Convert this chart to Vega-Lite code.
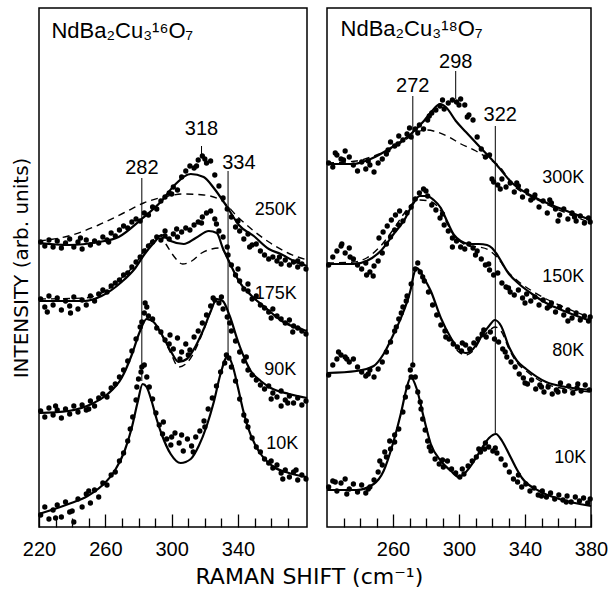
{
"$schema": "https://vega.github.io/schema/vega-lite/v6.json",
"padding": {"left": 10, "top": 7, "right": 5, "bottom": 5},
"background": "white",
"config": {"view": {"stroke": "black", "strokeWidth": 1.5}, "font": "Liberation Sans"},
"title": {"text": "RAMAN SHIFT (cm⁻¹)", "orient": "bottom", "anchor": "middle", "font": "DejaVu Sans", "fontSize": 22, "fontWeight": "normal", "color": "black", "offset": 3},
"spacing": 8,
"datasets": {
"fitL": [
{"T":"250K","x":220,"y":284},{"T":"250K","x":237.8,"y":282},{"T":"250K","x":255.9,"y":285},{"T":"250K","x":268,"y":290},{"T":"250K","x":281.9,"y":308},{"T":"250K","x":293.9,"y":326},{"T":"250K","x":301.8,"y":342},{"T":"250K","x":311.5,"y":353},{"T":"250K","x":319.3,"y":350},{"T":"250K","x":325.4,"y":339},{"T":"250K","x":333.8,"y":319},{"T":"250K","x":340.5,"y":302},{"T":"250K","x":349.5,"y":291},{"T":"250K","x":358.6,"y":278},{"T":"250K","x":365.8,"y":273},{"T":"250K","x":373.7,"y":266},{"T":"250K","x":381.6,"y":261},
{"T":"175K","x":220,"y":226},{"T":"175K","x":247.5,"y":226},{"T":"175K","x":257.7,"y":231},{"T":"175K","x":269.8,"y":245},{"T":"175K","x":277.6,"y":258},{"T":"175K","x":283.7,"y":273},{"T":"175K","x":289.7,"y":285},{"T":"175K","x":293.9,"y":292},{"T":"175K","x":299.4,"y":286},{"T":"175K","x":307.3,"y":283},{"T":"175K","x":314.5,"y":289},{"T":"175K","x":322.4,"y":296},{"T":"175K","x":327.2,"y":294},{"T":"175K","x":330.8,"y":279},{"T":"175K","x":335,"y":264},{"T":"175K","x":340.5,"y":246},{"T":"175K","x":348.3,"y":231},{"T":"175K","x":356.8,"y":219},{"T":"175K","x":366.4,"y":206},{"T":"175K","x":381.6,"y":196},
{"T":"90K","x":220,"y":114},{"T":"90K","x":237.8,"y":116},{"T":"90K","x":251.7,"y":123},{"T":"90K","x":261.4,"y":133},{"T":"90K","x":269.8,"y":149},{"T":"90K","x":275.9,"y":172},{"T":"90K","x":280.7,"y":195},{"T":"90K","x":284.9,"y":208},{"T":"90K","x":289.1,"y":205},{"T":"90K","x":293.9,"y":193},{"T":"90K","x":299.4,"y":176},{"T":"90K","x":304.2,"y":165},{"T":"90K","x":309.1,"y":168},{"T":"90K","x":314.5,"y":181},{"T":"90K","x":319.3,"y":198},{"T":"90K","x":323.6,"y":216},{"T":"90K","x":327.2,"y":228},{"T":"90K","x":330.8,"y":226},{"T":"90K","x":335,"y":211},{"T":"90K","x":339.9,"y":186},{"T":"90K","x":344.1,"y":168},{"T":"90K","x":347.7,"y":156},{"T":"90K","x":353.7,"y":146},{"T":"90K","x":359.8,"y":139},{"T":"90K","x":370.7,"y":133},{"T":"90K","x":381.6,"y":129},
{"T":"10K","x":220,"y":13},{"T":"10K","x":237.8,"y":23},{"T":"10K","x":249.3,"y":31},{"T":"10K","x":257.7,"y":41},{"T":"10K","x":265.6,"y":56},{"T":"10K","x":271.6,"y":76},{"T":"10K","x":275.9,"y":99},{"T":"10K","x":279.5,"y":125},{"T":"10K","x":282.5,"y":143},{"T":"10K","x":284.9,"y":140},{"T":"10K","x":287.9,"y":126},{"T":"10K","x":290.9,"y":108},{"T":"10K","x":293.9,"y":93},{"T":"10K","x":299.4,"y":73},{"T":"10K","x":305.4,"y":64},{"T":"10K","x":311.5,"y":68},{"T":"10K","x":316.3,"y":81},{"T":"10K","x":321.1,"y":101},{"T":"10K","x":325.4,"y":125},{"T":"10K","x":329.6,"y":154},{"T":"10K","x":333.8,"y":171},{"T":"10K","x":336.8,"y":161},{"T":"10K","x":339.9,"y":140},{"T":"10K","x":342.9,"y":118},{"T":"10K","x":345.9,"y":100},{"T":"10K","x":350.1,"y":83},{"T":"10K","x":353.7,"y":73},{"T":"10K","x":361.6,"y":60},{"T":"10K","x":370.7,"y":54},{"T":"10K","x":381.6,"y":50}
],
"dashL": [
{"T":"250K","x":220,"y":286},{"T":"250K","x":237.8,"y":291},{"T":"250K","x":255.9,"y":302},{"T":"250K","x":271,"y":314},{"T":"250K","x":283.1,"y":324},{"T":"250K","x":295.2,"y":330},{"T":"250K","x":307.3,"y":333},{"T":"250K","x":319.3,"y":332},{"T":"250K","x":329.6,"y":327},{"T":"250K","x":339.9,"y":310},{"T":"250K","x":349.5,"y":296},{"T":"250K","x":358.6,"y":285},{"T":"250K","x":370.1,"y":274},{"T":"250K","x":381.6,"y":267},
{"T":"175K","x":220,"y":228},{"T":"175K","x":247.5,"y":229},{"T":"175K","x":257.7,"y":234},{"T":"175K","x":269.8,"y":249},{"T":"175K","x":277.6,"y":262},{"T":"175K","x":283.7,"y":277},{"T":"175K","x":289.7,"y":288},{"T":"175K","x":293.3,"y":291},{"T":"175K","x":296.9,"y":282},{"T":"175K","x":301.2,"y":271},{"T":"175K","x":306.6,"y":263},{"T":"175K","x":312.1,"y":266},{"T":"175K","x":318.1,"y":274},{"T":"175K","x":324.2,"y":278},{"T":"175K","x":329.6,"y":279},{"T":"175K","x":333.2,"y":271},{"T":"175K","x":336.8,"y":258},{"T":"175K","x":341.7,"y":243},{"T":"175K","x":348.3,"y":231},{"T":"175K","x":356.8,"y":219},{"T":"175K","x":366.4,"y":207},{"T":"175K","x":381.6,"y":197},
{"T":"90K","x":284.9,"y":208},{"T":"90K","x":289.1,"y":205},{"T":"90K","x":293.9,"y":192},{"T":"90K","x":299.4,"y":174},{"T":"90K","x":304.2,"y":160},{"T":"90K","x":309.1,"y":164},{"T":"90K","x":314.5,"y":178},{"T":"90K","x":319.3,"y":197},{"T":"90K","x":323.6,"y":216}
],
"dotsL": [
{"T":"250K","x":221,"y":285},{"T":"250K","x":223.5,"y":281},{"T":"250K","x":226,"y":287},{"T":"250K","x":228.5,"y":280},{"T":"250K","x":231,"y":286},{"T":"250K","x":233.5,"y":279},{"T":"250K","x":236,"y":284},{"T":"250K","x":238.5,"y":288},{"T":"250K","x":241,"y":280},{"T":"250K","x":243.5,"y":285},{"T":"250K","x":246,"y":278},{"T":"250K","x":248.5,"y":287},{"T":"250K","x":251,"y":282},{"T":"250K","x":253.5,"y":286},{"T":"250K","x":256,"y":284},{"T":"250K","x":258.5,"y":290},{"T":"250K","x":261,"y":287},{"T":"250K","x":263.5,"y":294},{"T":"250K","x":266,"y":291},{"T":"250K","x":268.5,"y":297},{"T":"250K","x":271,"y":301},{"T":"250K","x":273.5,"y":299},{"T":"250K","x":276,"y":305},{"T":"250K","x":278.5,"y":308},{"T":"250K","x":281,"y":306},{"T":"250K","x":283.5,"y":314},{"T":"250K","x":286,"y":312},{"T":"250K","x":288.5,"y":320},{"T":"250K","x":291,"y":318},{"T":"250K","x":293.5,"y":326},{"T":"250K","x":296,"y":330},{"T":"250K","x":298.5,"y":334},{"T":"250K","x":301,"y":340},{"T":"250K","x":303.5,"y":337},{"T":"250K","x":306,"y":350},{"T":"250K","x":308.5,"y":356},{"T":"250K","x":311,"y":361},{"T":"250K","x":313.5,"y":359},{"T":"250K","x":316,"y":367},{"T":"250K","x":318.5,"y":371},{"T":"250K","x":321,"y":364},{"T":"250K","x":323.5,"y":366},{"T":"250K","x":326,"y":352},{"T":"250K","x":328.5,"y":341},{"T":"250K","x":331,"y":329},{"T":"250K","x":333.5,"y":318},{"T":"250K","x":336,"y":310},{"T":"250K","x":338.5,"y":300},{"T":"250K","x":341,"y":296},{"T":"250K","x":343.5,"y":288},{"T":"250K","x":346,"y":293},{"T":"250K","x":348.5,"y":282},{"T":"250K","x":351,"y":283},{"T":"250K","x":353.5,"y":276},{"T":"250K","x":356,"y":272},{"T":"250K","x":358.5,"y":268},{"T":"250K","x":361,"y":270},{"T":"250K","x":363.5,"y":266},{"T":"250K","x":366,"y":263},{"T":"250K","x":368.5,"y":267},{"T":"250K","x":371,"y":262},{"T":"250K","x":373.5,"y":265},{"T":"250K","x":376,"y":260},{"T":"250K","x":378.5,"y":263},{"T":"250K","x":381,"y":258},{"T":"250K","x":245,"y":289},{"T":"250K","x":262,"y":285},{"T":"250K","x":300,"y":333},{"T":"250K","x":315,"y":361},{"T":"250K","x":320,"y":368},{"T":"250K","x":340,"y":306},{"T":"250K","x":347,"y":280},{"T":"250K","x":365,"y":270},{"T":"250K","x":376,"y":266},
{"T":"175K","x":221,"y":228},{"T":"175K","x":223.5,"y":220},{"T":"175K","x":226,"y":231},{"T":"175K","x":228.5,"y":222},{"T":"175K","x":231,"y":229},{"T":"175K","x":233.5,"y":217},{"T":"175K","x":236,"y":226},{"T":"175K","x":238.5,"y":221},{"T":"175K","x":241,"y":230},{"T":"175K","x":243.5,"y":218},{"T":"175K","x":246,"y":227},{"T":"175K","x":248.5,"y":222},{"T":"175K","x":251,"y":231},{"T":"175K","x":253.5,"y":226},{"T":"175K","x":256,"y":233},{"T":"175K","x":258.5,"y":237},{"T":"175K","x":261,"y":235},{"T":"175K","x":263.5,"y":241},{"T":"175K","x":266,"y":244},{"T":"175K","x":268.5,"y":247},{"T":"175K","x":271,"y":252},{"T":"175K","x":273.5,"y":254},{"T":"175K","x":276,"y":260},{"T":"175K","x":278.5,"y":265},{"T":"175K","x":281,"y":270},{"T":"175K","x":283.5,"y":276},{"T":"175K","x":286,"y":281},{"T":"175K","x":288.5,"y":285},{"T":"175K","x":291,"y":290},{"T":"175K","x":293.5,"y":287},{"T":"175K","x":296,"y":291},{"T":"175K","x":298.5,"y":288},{"T":"175K","x":301,"y":293},{"T":"175K","x":303.5,"y":290},{"T":"175K","x":306,"y":295},{"T":"175K","x":308.5,"y":299},{"T":"175K","x":311,"y":297},{"T":"175K","x":313.5,"y":302},{"T":"175K","x":316,"y":305},{"T":"175K","x":318.5,"y":310},{"T":"175K","x":321,"y":314},{"T":"175K","x":323.5,"y":316},{"T":"175K","x":326,"y":308},{"T":"175K","x":328.5,"y":296},{"T":"175K","x":331,"y":290},{"T":"175K","x":333.5,"y":280},{"T":"175K","x":336,"y":262},{"T":"175K","x":338.5,"y":252},{"T":"175K","x":341,"y":246},{"T":"175K","x":343.5,"y":238},{"T":"175K","x":346,"y":236},{"T":"175K","x":348.5,"y":228},{"T":"175K","x":351,"y":231},{"T":"175K","x":353.5,"y":222},{"T":"175K","x":356,"y":219},{"T":"175K","x":358.5,"y":215},{"T":"175K","x":361,"y":218},{"T":"175K","x":363.5,"y":211},{"T":"175K","x":366,"y":208},{"T":"175K","x":368.5,"y":204},{"T":"175K","x":371,"y":207},{"T":"175K","x":373.5,"y":201},{"T":"175K","x":376,"y":199},{"T":"175K","x":378.5,"y":196},{"T":"175K","x":381,"y":193},{"T":"175K","x":225,"y":215},{"T":"175K","x":239,"y":214},{"T":"175K","x":296,"y":296},{"T":"175K","x":303,"y":298},{"T":"175K","x":318,"y":304},{"T":"175K","x":327,"y":303},{"T":"175K","x":334,"y":272},{"T":"175K","x":340,"y":258},{"T":"175K","x":346,"y":243},{"T":"175K","x":360,"y":209},{"T":"175K","x":373,"y":195},
{"T":"90K","x":221,"y":116},{"T":"90K","x":223.5,"y":110},{"T":"90K","x":226,"y":119},{"T":"90K","x":228.5,"y":112},{"T":"90K","x":231,"y":117},{"T":"90K","x":233.5,"y":109},{"T":"90K","x":236,"y":118},{"T":"90K","x":238.5,"y":113},{"T":"90K","x":241,"y":121},{"T":"90K","x":243.5,"y":115},{"T":"90K","x":246,"y":122},{"T":"90K","x":248.5,"y":117},{"T":"90K","x":251,"y":126},{"T":"90K","x":253.5,"y":121},{"T":"90K","x":256,"y":129},{"T":"90K","x":258.5,"y":133},{"T":"90K","x":261,"y":130},{"T":"90K","x":263.5,"y":139},{"T":"90K","x":266,"y":143},{"T":"90K","x":268.5,"y":150},{"T":"90K","x":271,"y":157},{"T":"90K","x":273.5,"y":166},{"T":"90K","x":276,"y":176},{"T":"90K","x":278.5,"y":188},{"T":"90K","x":281,"y":200},{"T":"90K","x":283.5,"y":214},{"T":"90K","x":285,"y":220},{"T":"90K","x":286,"y":211},{"T":"90K","x":288.5,"y":208},{"T":"90K","x":291,"y":199},{"T":"90K","x":293.5,"y":195},{"T":"90K","x":296,"y":187},{"T":"90K","x":298.5,"y":183},{"T":"90K","x":301,"y":178},{"T":"90K","x":303.5,"y":189},{"T":"90K","x":306,"y":175},{"T":"90K","x":308.5,"y":183},{"T":"90K","x":311,"y":177},{"T":"90K","x":313.5,"y":190},{"T":"90K","x":316,"y":196},{"T":"90K","x":318.5,"y":204},{"T":"90K","x":321,"y":212},{"T":"90K","x":323.5,"y":221},{"T":"90K","x":326,"y":227},{"T":"90K","x":328.5,"y":224},{"T":"90K","x":331,"y":218},{"T":"90K","x":333.5,"y":210},{"T":"90K","x":336,"y":196},{"T":"90K","x":338.5,"y":186},{"T":"90K","x":341,"y":175},{"T":"90K","x":343.5,"y":166},{"T":"90K","x":346,"y":157},{"T":"90K","x":348.5,"y":152},{"T":"90K","x":351,"y":147},{"T":"90K","x":353.5,"y":142},{"T":"90K","x":356,"y":138},{"T":"90K","x":358.5,"y":141},{"T":"90K","x":361,"y":134},{"T":"90K","x":363.5,"y":130},{"T":"90K","x":366,"y":136},{"T":"90K","x":368.5,"y":127},{"T":"90K","x":371,"y":131},{"T":"90K","x":373.5,"y":124},{"T":"90K","x":376,"y":129},{"T":"90K","x":378.5,"y":122},{"T":"90K","x":381,"y":126},{"T":"90K","x":230,"y":121},{"T":"90K","x":250,"y":118},{"T":"90K","x":282,"y":205},{"T":"90K","x":284,"y":224},{"T":"90K","x":299,"y":192},{"T":"90K","x":305,"y":168},{"T":"90K","x":310,"y":172},{"T":"90K","x":325,"y":229},{"T":"90K","x":330,"y":230},{"T":"90K","x":335,"y":204},{"T":"90K","x":345,"y":170},{"T":"90K","x":360,"y":128},{"T":"90K","x":366,"y":121},{"T":"90K","x":370,"y":124},
{"T":"10K","x":221,"y":12},{"T":"10K","x":223.5,"y":20},{"T":"10K","x":226,"y":8},{"T":"10K","x":228.5,"y":17},{"T":"10K","x":231,"y":22},{"T":"10K","x":233.5,"y":10},{"T":"10K","x":236,"y":25},{"T":"10K","x":238.5,"y":15},{"T":"10K","x":241,"y":5},{"T":"10K","x":243.5,"y":28},{"T":"10K","x":246,"y":20},{"T":"10K","x":248.5,"y":33},{"T":"10K","x":251,"y":24},{"T":"10K","x":253.5,"y":37},{"T":"10K","x":256,"y":30},{"T":"10K","x":258.5,"y":44},{"T":"10K","x":261,"y":42},{"T":"10K","x":263.5,"y":52},{"T":"10K","x":266,"y":55},{"T":"10K","x":268.5,"y":66},{"T":"10K","x":271,"y":74},{"T":"10K","x":273.5,"y":86},{"T":"10K","x":275,"y":98},{"T":"10K","x":276.5,"y":110},{"T":"10K","x":278.5,"y":127},{"T":"10K","x":280,"y":148},{"T":"10K","x":281.5,"y":155},{"T":"10K","x":283.5,"y":162},{"T":"10K","x":285,"y":150},{"T":"10K","x":286.5,"y":140},{"T":"10K","x":288.5,"y":128},{"T":"10K","x":290.5,"y":114},{"T":"10K","x":292.5,"y":102},{"T":"10K","x":294.5,"y":93},{"T":"10K","x":297,"y":88},{"T":"10K","x":299.5,"y":82},{"T":"10K","x":302,"y":94},{"T":"10K","x":304.5,"y":84},{"T":"10K","x":307,"y":76},{"T":"10K","x":309.5,"y":88},{"T":"10K","x":312,"y":81},{"T":"10K","x":314.5,"y":90},{"T":"10K","x":317,"y":96},{"T":"10K","x":319.5,"y":106},{"T":"10K","x":322,"y":118},{"T":"10K","x":324.5,"y":129},{"T":"10K","x":327,"y":141},{"T":"10K","x":329.5,"y":155},{"T":"10K","x":332,"y":164},{"T":"10K","x":334.5,"y":169},{"T":"10K","x":336,"y":160},{"T":"10K","x":338.5,"y":146},{"T":"10K","x":341,"y":128},{"T":"10K","x":343.5,"y":112},{"T":"10K","x":346,"y":100},{"T":"10K","x":348.5,"y":89},{"T":"10K","x":351,"y":80},{"T":"10K","x":353.5,"y":75},{"T":"10K","x":356,"y":68},{"T":"10K","x":358.5,"y":64},{"T":"10K","x":361,"y":59},{"T":"10K","x":363.5,"y":62},{"T":"10K","x":366,"y":54},{"T":"10K","x":368.5,"y":57},{"T":"10K","x":371,"y":50},{"T":"10K","x":373.5,"y":55},{"T":"10K","x":376,"y":47},{"T":"10K","x":378.5,"y":52},{"T":"10K","x":381,"y":48},{"T":"10K","x":230,"y":9},{"T":"10K","x":240,"y":16},{"T":"10K","x":250,"y":36},{"T":"10K","x":279,"y":140},{"T":"10K","x":282,"y":160},{"T":"10K","x":295,"y":105},{"T":"10K","x":300,"y":90},{"T":"10K","x":306,"y":92},{"T":"10K","x":313,"y":75},{"T":"10K","x":320,"y":100},{"T":"10K","x":333,"y":172},{"T":"10K","x":345,"y":106},{"T":"10K","x":360,"y":66},{"T":"10K","x":367,"y":48},{"T":"10K","x":375,"y":57}
],
"rulesL": [{"x":282,"y":349,"y2":146},{"x":318,"y":381,"y2":369},{"x":334,"y":356,"y2":171}],
"peakLabelsL": [{"x":282,"y":359,"label":"282"},{"x":318,"y":398,"label":"318"},{"x":340.5,"y":364,"label":"334"}],
"tempsL": [{"x":362.8,"y":317,"label":"250K"},{"x":362.8,"y":233,"label":"175K"},{"x":365.5,"y":157,"label":"90K"},{"x":366.7,"y":83,"label":"10K"}],
"nameL": [{"x":227.5,"y":489,"label":"NdBa₂Cu₃¹⁶O₇"}],
"fitR": [
{"T":"300K","x":220,"y":363},{"T":"300K","x":236.1,"y":363},{"T":"300K","x":246.4,"y":368},{"T":"300K","x":258.6,"y":379},{"T":"300K","x":270.8,"y":393},{"T":"300K","x":278.7,"y":406},{"T":"300K","x":284.7,"y":418},{"T":"300K","x":288.4,"y":423},{"T":"300K","x":292,"y":420},{"T":"300K","x":298.1,"y":406},{"T":"300K","x":304.2,"y":395},{"T":"300K","x":312.1,"y":381},{"T":"300K","x":322.4,"y":363},{"T":"300K","x":332.2,"y":344},{"T":"300K","x":346.7,"y":329},{"T":"300K","x":360.7,"y":319},{"T":"300K","x":380,"y":307},
{"T":"150K","x":220,"y":263},{"T":"150K","x":236.1,"y":263},{"T":"150K","x":244,"y":266},{"T":"150K","x":252.5,"y":276},{"T":"150K","x":260.4,"y":293},{"T":"150K","x":266.5,"y":306},{"T":"150K","x":271.4,"y":321},{"T":"150K","x":276.2,"y":331},{"T":"150K","x":280.5,"y":331},{"T":"150K","x":284.7,"y":327},{"T":"150K","x":289,"y":319},{"T":"150K","x":293,"y":305},{"T":"150K","x":297,"y":292},{"T":"150K","x":301,"y":286},{"T":"150K","x":306,"y":283},{"T":"150K","x":312,"y":283},{"T":"150K","x":317,"y":282},{"T":"150K","x":320,"y":279},{"T":"150K","x":322.4,"y":274},{"T":"150K","x":330.3,"y":253},{"T":"150K","x":336.4,"y":243},{"T":"150K","x":344.3,"y":233},{"T":"150K","x":352.8,"y":224},{"T":"150K","x":360.7,"y":218},{"T":"150K","x":380,"y":206},
{"T":"80K","x":220,"y":154},{"T":"80K","x":237.9,"y":156},{"T":"80K","x":248.3,"y":161},{"T":"80K","x":254.3,"y":173},{"T":"80K","x":260.4,"y":193},{"T":"80K","x":266.5,"y":216},{"T":"80K","x":270.8,"y":238},{"T":"80K","x":272.5,"y":252},{"T":"80K","x":274.4,"y":259},{"T":"80K","x":276,"y":257},{"T":"80K","x":278.1,"y":251},{"T":"80K","x":282.9,"y":236},{"T":"80K","x":289,"y":209},{"T":"80K","x":295.1,"y":189},{"T":"80K","x":299.9,"y":178},{"T":"80K","x":304.2,"y":174},{"T":"80K","x":308.5,"y":178},{"T":"80K","x":313.3,"y":190},{"T":"80K","x":318.2,"y":201},{"T":"80K","x":321.8,"y":207},{"T":"80K","x":325.5,"y":201},{"T":"80K","x":330.3,"y":180},{"T":"80K","x":335.2,"y":166},{"T":"80K","x":340.7,"y":158},{"T":"80K","x":352.8,"y":145},{"T":"80K","x":365,"y":140},{"T":"80K","x":380,"y":137},
{"T":"10K","x":220,"y":37},{"T":"10K","x":237.9,"y":37},{"T":"10K","x":248.3,"y":43},{"T":"10K","x":254.3,"y":56},{"T":"10K","x":260.4,"y":86},{"T":"10K","x":264.7,"y":113},{"T":"10K","x":268.3,"y":139},{"T":"10K","x":270.8,"y":150},{"T":"10K","x":274.4,"y":138},{"T":"10K","x":278.7,"y":109},{"T":"10K","x":282.9,"y":83},{"T":"10K","x":289,"y":66},{"T":"10K","x":295.1,"y":56},{"T":"10K","x":299.9,"y":50},{"T":"10K","x":304.2,"y":55},{"T":"10K","x":307.9,"y":63},{"T":"10K","x":313.9,"y":79},{"T":"10K","x":318.2,"y":89},{"T":"10K","x":322.4,"y":93},{"T":"10K","x":326.1,"y":86},{"T":"10K","x":330.3,"y":73},{"T":"10K","x":334.6,"y":59},{"T":"10K","x":338.2,"y":49},{"T":"10K","x":348.6,"y":36},{"T":"10K","x":360.7,"y":28},{"T":"10K","x":380,"y":21}
],
"dashR": [
{"T":"300K","x":220,"y":364},{"T":"300K","x":237.9,"y":366},{"T":"300K","x":248.3,"y":371},{"T":"300K","x":258.6,"y":378},{"T":"300K","x":268.3,"y":388},{"T":"300K","x":274.4,"y":395},{"T":"300K","x":280.5,"y":397},{"T":"300K","x":286.6,"y":395},{"T":"300K","x":293.9,"y":390},{"T":"300K","x":301.2,"y":383},{"T":"300K","x":310.3,"y":376},{"T":"300K","x":318.2,"y":368},{"T":"300K","x":324.3,"y":361},{"T":"300K","x":332.2,"y":343},{"T":"300K","x":346.7,"y":328},{"T":"300K","x":360.7,"y":317},{"T":"300K","x":380,"y":304},
{"T":"150K","x":220,"y":264},{"T":"150K","x":236.1,"y":265},{"T":"150K","x":244,"y":269},{"T":"150K","x":252.5,"y":281},{"T":"150K","x":260.4,"y":298},{"T":"150K","x":266.5,"y":313},{"T":"150K","x":271.4,"y":323},{"T":"150K","x":276.2,"y":327},{"T":"150K","x":281.7,"y":326},{"T":"150K","x":287.8,"y":319},{"T":"150K","x":293,"y":303},{"T":"150K","x":297,"y":291},{"T":"150K","x":301,"y":285},{"T":"150K","x":306,"y":281},{"T":"150K","x":312,"y":280},{"T":"150K","x":318,"y":277},{"T":"150K","x":322.4,"y":271},{"T":"150K","x":330.3,"y":254},{"T":"150K","x":336.4,"y":245},{"T":"150K","x":344.3,"y":236},{"T":"150K","x":352.8,"y":228},{"T":"150K","x":360.7,"y":222},{"T":"150K","x":380,"y":209},
{"T":"80K","x":295.1,"y":188},{"T":"80K","x":299.9,"y":175},{"T":"80K","x":304.2,"y":172},{"T":"80K","x":308.5,"y":176},{"T":"80K","x":313.3,"y":188},{"T":"80K","x":318.2,"y":196},{"T":"80K","x":321.8,"y":200},{"T":"80K","x":325.5,"y":196},{"T":"80K","x":330.3,"y":178},{"T":"80K","x":335.2,"y":164},{"T":"80K","x":340.7,"y":156},{"T":"80K","x":352.8,"y":143},{"T":"80K","x":365,"y":138},{"T":"80K","x":380,"y":135}
],
"dotsR": [
{"T":"300K","x":221,"y":364},{"T":"300K","x":223.5,"y":360},{"T":"300K","x":226,"y":372},{"T":"300K","x":228.5,"y":368},{"T":"300K","x":231,"y":376},{"T":"300K","x":233.5,"y":370},{"T":"300K","x":236,"y":362},{"T":"300K","x":238.5,"y":356},{"T":"300K","x":241,"y":365},{"T":"300K","x":243.5,"y":358},{"T":"300K","x":246,"y":362},{"T":"300K","x":248.5,"y":355},{"T":"300K","x":251,"y":364},{"T":"300K","x":253.5,"y":368},{"T":"300K","x":256,"y":373},{"T":"300K","x":258.5,"y":385},{"T":"300K","x":261,"y":381},{"T":"300K","x":263.5,"y":391},{"T":"300K","x":266,"y":387},{"T":"300K","x":268.5,"y":393},{"T":"300K","x":271,"y":390},{"T":"300K","x":273.5,"y":398},{"T":"300K","x":276,"y":402},{"T":"300K","x":278.5,"y":398},{"T":"300K","x":281,"y":407},{"T":"300K","x":283.5,"y":414},{"T":"300K","x":286,"y":417},{"T":"300K","x":288.5,"y":421},{"T":"300K","x":291,"y":418},{"T":"300K","x":293.5,"y":424},{"T":"300K","x":296,"y":427},{"T":"300K","x":298.5,"y":425},{"T":"300K","x":301,"y":428},{"T":"300K","x":303.5,"y":422},{"T":"300K","x":306,"y":412},{"T":"300K","x":308.5,"y":407},{"T":"300K","x":311,"y":390},{"T":"300K","x":313.5,"y":378},{"T":"300K","x":316,"y":370},{"T":"300K","x":318.5,"y":372},{"T":"300K","x":321,"y":345},{"T":"300K","x":323.5,"y":342},{"T":"300K","x":326,"y":348},{"T":"300K","x":328.5,"y":340},{"T":"300K","x":331,"y":344},{"T":"300K","x":333.5,"y":335},{"T":"300K","x":336,"y":341},{"T":"300K","x":338.5,"y":330},{"T":"300K","x":341,"y":336},{"T":"300K","x":343.5,"y":327},{"T":"300K","x":346,"y":332},{"T":"300K","x":348.5,"y":320},{"T":"300K","x":351,"y":326},{"T":"300K","x":353.5,"y":314},{"T":"300K","x":356,"y":324},{"T":"300K","x":358.5,"y":318},{"T":"300K","x":361,"y":312},{"T":"300K","x":363.5,"y":318},{"T":"300K","x":366,"y":308},{"T":"300K","x":368.5,"y":314},{"T":"300K","x":371,"y":306},{"T":"300K","x":373.5,"y":311},{"T":"300K","x":376,"y":304},{"T":"300K","x":378.5,"y":309},{"T":"300K","x":379.5,"y":305},{"T":"300K","x":225,"y":374},{"T":"300K","x":230,"y":367},{"T":"300K","x":245,"y":366},{"T":"300K","x":257,"y":377},{"T":"300K","x":263,"y":383},{"T":"300K","x":270,"y":399},{"T":"300K","x":275,"y":394},{"T":"300K","x":282,"y":411},{"T":"300K","x":290,"y":427},{"T":"300K","x":300,"y":422},{"T":"300K","x":305,"y":410},{"T":"300K","x":320,"y":348},{"T":"300K","x":325,"y":338},{"T":"300K","x":335,"y":344},{"T":"300K","x":345,"y":329},{"T":"300K","x":355,"y":327},{"T":"300K","x":360,"y":306},{"T":"300K","x":370,"y":310},
{"T":"150K","x":221,"y":262},{"T":"150K","x":223.5,"y":270},{"T":"150K","x":226,"y":276},{"T":"150K","x":228.5,"y":281},{"T":"150K","x":231,"y":274},{"T":"150K","x":233.5,"y":279},{"T":"150K","x":236,"y":268},{"T":"150K","x":238.5,"y":262},{"T":"150K","x":241,"y":258},{"T":"150K","x":243.5,"y":264},{"T":"150K","x":246,"y":255},{"T":"150K","x":248.5,"y":261},{"T":"150K","x":251,"y":266},{"T":"150K","x":253.5,"y":274},{"T":"150K","x":256,"y":283},{"T":"150K","x":258.5,"y":290},{"T":"150K","x":261,"y":297},{"T":"150K","x":263.5,"y":302},{"T":"150K","x":266,"y":306},{"T":"150K","x":268.5,"y":314},{"T":"150K","x":271,"y":320},{"T":"150K","x":273.5,"y":328},{"T":"150K","x":276,"y":334},{"T":"150K","x":278.5,"y":338},{"T":"150K","x":281,"y":331},{"T":"150K","x":283.5,"y":322},{"T":"150K","x":286,"y":317},{"T":"150K","x":288.5,"y":309},{"T":"150K","x":291,"y":302},{"T":"150K","x":293.5,"y":296},{"T":"150K","x":296,"y":289},{"T":"150K","x":298.5,"y":286},{"T":"150K","x":301,"y":280},{"T":"150K","x":303.5,"y":278},{"T":"150K","x":306,"y":283},{"T":"150K","x":308.5,"y":279},{"T":"150K","x":311,"y":276},{"T":"150K","x":313.5,"y":268},{"T":"150K","x":316,"y":262},{"T":"150K","x":318.5,"y":257},{"T":"150K","x":321,"y":252},{"T":"150K","x":323.5,"y":254},{"T":"150K","x":326,"y":244},{"T":"150K","x":328.5,"y":240},{"T":"150K","x":331,"y":235},{"T":"150K","x":333.5,"y":232},{"T":"150K","x":336,"y":237},{"T":"150K","x":338.5,"y":229},{"T":"150K","x":341,"y":233},{"T":"150K","x":343.5,"y":226},{"T":"150K","x":346,"y":230},{"T":"150K","x":348.5,"y":222},{"T":"150K","x":351,"y":227},{"T":"150K","x":353.5,"y":219},{"T":"150K","x":356,"y":224},{"T":"150K","x":358.5,"y":215},{"T":"150K","x":361,"y":220},{"T":"150K","x":363.5,"y":212},{"T":"150K","x":366,"y":217},{"T":"150K","x":368.5,"y":209},{"T":"150K","x":371,"y":214},{"T":"150K","x":373.5,"y":207},{"T":"150K","x":376,"y":211},{"T":"150K","x":378.5,"y":206},{"T":"150K","x":379.5,"y":210},{"T":"150K","x":251.5,"y":289},{"T":"150K","x":254,"y":295},{"T":"150K","x":256.5,"y":301},{"T":"150K","x":259,"y":307},{"T":"150K","x":261.5,"y":312},{"T":"150K","x":264,"y":316},{"T":"150K","x":229,"y":283},{"T":"150K","x":234,"y":270},{"T":"150K","x":244,"y":252},{"T":"150K","x":248,"y":251},{"T":"150K","x":280,"y":336},{"T":"150K","x":290,"y":313},{"T":"150K","x":296,"y":280},{"T":"150K","x":310,"y":272},{"T":"150K","x":318,"y":263},{"T":"150K","x":330,"y":239},{"T":"150K","x":340,"y":224},{"T":"150K","x":355,"y":221},{"T":"150K","x":366,"y":206},
{"T":"80K","x":221,"y":152},{"T":"80K","x":223.5,"y":162},{"T":"80K","x":226,"y":168},{"T":"80K","x":228.5,"y":172},{"T":"80K","x":231,"y":170},{"T":"80K","x":233.5,"y":165},{"T":"80K","x":236,"y":168},{"T":"80K","x":238.5,"y":160},{"T":"80K","x":241,"y":155},{"T":"80K","x":243.5,"y":151},{"T":"80K","x":246,"y":157},{"T":"80K","x":248.5,"y":150},{"T":"80K","x":251,"y":158},{"T":"80K","x":253.5,"y":165},{"T":"80K","x":256,"y":175},{"T":"80K","x":258.5,"y":185},{"T":"80K","x":261,"y":196},{"T":"80K","x":263.5,"y":208},{"T":"80K","x":266,"y":220},{"T":"80K","x":268.5,"y":231},{"T":"80K","x":271,"y":243},{"T":"80K","x":273.5,"y":258},{"T":"80K","x":275,"y":264},{"T":"80K","x":276.5,"y":255},{"T":"80K","x":279,"y":246},{"T":"80K","x":281.5,"y":235},{"T":"80K","x":284,"y":222},{"T":"80K","x":286.5,"y":212},{"T":"80K","x":289,"y":202},{"T":"80K","x":291.5,"y":196},{"T":"80K","x":294,"y":188},{"T":"80K","x":296.5,"y":183},{"T":"80K","x":299,"y":180},{"T":"80K","x":301.5,"y":176},{"T":"80K","x":304,"y":182},{"T":"80K","x":306.5,"y":178},{"T":"80K","x":309,"y":184},{"T":"80K","x":311.5,"y":188},{"T":"80K","x":314,"y":193},{"T":"80K","x":316.5,"y":190},{"T":"80K","x":319,"y":195},{"T":"80K","x":321.5,"y":188},{"T":"80K","x":324,"y":185},{"T":"80K","x":326.5,"y":178},{"T":"80K","x":329,"y":170},{"T":"80K","x":331.5,"y":165},{"T":"80K","x":334,"y":160},{"T":"80K","x":336.5,"y":153},{"T":"80K","x":339,"y":149},{"T":"80K","x":341.5,"y":143},{"T":"80K","x":344,"y":147},{"T":"80K","x":346.5,"y":138},{"T":"80K","x":349,"y":142},{"T":"80K","x":351.5,"y":135},{"T":"80K","x":354,"y":140},{"T":"80K","x":356.5,"y":133},{"T":"80K","x":359,"y":137},{"T":"80K","x":361.5,"y":144},{"T":"80K","x":364,"y":136},{"T":"80K","x":366.5,"y":141},{"T":"80K","x":369,"y":134},{"T":"80K","x":371.5,"y":139},{"T":"80K","x":374,"y":136},{"T":"80K","x":376.5,"y":142},{"T":"80K","x":379,"y":137},{"T":"80K","x":227,"y":175},{"T":"80K","x":232,"y":168},{"T":"80K","x":245,"y":153},{"T":"80K","x":262,"y":200},{"T":"80K","x":265,"y":214},{"T":"80K","x":268,"y":226},{"T":"80K","x":278,"y":250},{"T":"80K","x":292,"y":190},{"T":"80K","x":302,"y":184},{"T":"80K","x":315,"y":197},{"T":"80K","x":328,"y":175},{"T":"80K","x":340,"y":144},{"T":"80K","x":350,"y":140},{"T":"80K","x":360,"y":135},{"T":"80K","x":372,"y":143},
{"T":"10K","x":221,"y":40},{"T":"10K","x":223.5,"y":46},{"T":"10K","x":226,"y":36},{"T":"10K","x":228.5,"y":44},{"T":"10K","x":231,"y":48},{"T":"10K","x":233.5,"y":38},{"T":"10K","x":236,"y":43},{"T":"10K","x":238.5,"y":35},{"T":"10K","x":241,"y":42},{"T":"10K","x":243.5,"y":34},{"T":"10K","x":246,"y":40},{"T":"10K","x":248.5,"y":47},{"T":"10K","x":251,"y":55},{"T":"10K","x":253.5,"y":62},{"T":"10K","x":256,"y":70},{"T":"10K","x":258.5,"y":78},{"T":"10K","x":261,"y":85},{"T":"10K","x":263.5,"y":98},{"T":"10K","x":266,"y":115},{"T":"10K","x":267.5,"y":130},{"T":"10K","x":269,"y":140},{"T":"10K","x":270.5,"y":157},{"T":"10K","x":272,"y":162},{"T":"10K","x":273.5,"y":150},{"T":"10K","x":275,"y":135},{"T":"10K","x":276.5,"y":125},{"T":"10K","x":278,"y":108},{"T":"10K","x":279.5,"y":97},{"T":"10K","x":281,"y":86},{"T":"10K","x":283,"y":76},{"T":"10K","x":285.5,"y":68},{"T":"10K","x":288,"y":63},{"T":"10K","x":290.5,"y":60},{"T":"10K","x":293,"y":66},{"T":"10K","x":295.5,"y":58},{"T":"10K","x":298,"y":54},{"T":"10K","x":300.5,"y":50},{"T":"10K","x":303,"y":53},{"T":"10K","x":305.5,"y":61},{"T":"10K","x":308,"y":66},{"T":"10K","x":310.5,"y":70},{"T":"10K","x":313,"y":75},{"T":"10K","x":315.5,"y":78},{"T":"10K","x":318,"y":80},{"T":"10K","x":320.5,"y":76},{"T":"10K","x":323,"y":74},{"T":"10K","x":325.5,"y":68},{"T":"10K","x":328,"y":62},{"T":"10K","x":330.5,"y":55},{"T":"10K","x":333,"y":48},{"T":"10K","x":335.5,"y":45},{"T":"10K","x":338,"y":40},{"T":"10K","x":340.5,"y":43},{"T":"10K","x":343,"y":36},{"T":"10K","x":345.5,"y":39},{"T":"10K","x":348,"y":32},{"T":"10K","x":350.5,"y":36},{"T":"10K","x":353,"y":30},{"T":"10K","x":355.5,"y":34},{"T":"10K","x":358,"y":28},{"T":"10K","x":360.5,"y":32},{"T":"10K","x":363,"y":27},{"T":"10K","x":365.5,"y":31},{"T":"10K","x":368,"y":25},{"T":"10K","x":370.5,"y":30},{"T":"10K","x":373,"y":26},{"T":"10K","x":375.5,"y":29},{"T":"10K","x":378,"y":24},{"T":"10K","x":379.5,"y":28},{"T":"10K","x":225,"y":45},{"T":"10K","x":232,"y":33},{"T":"10K","x":245,"y":38},{"T":"10K","x":252,"y":66},{"T":"10K","x":255,"y":75},{"T":"10K","x":258,"y":86},{"T":"10K","x":261,"y":92},{"T":"10K","x":271,"y":150},{"T":"10K","x":277,"y":118},{"T":"10K","x":282,"y":80},{"T":"10K","x":290,"y":67},{"T":"10K","x":302,"y":58},{"T":"10K","x":312,"y":78},{"T":"10K","x":316,"y":84},{"T":"10K","x":322,"y":79},{"T":"10K","x":336,"y":52},{"T":"10K","x":350,"y":31},{"T":"10K","x":365,"y":25}
],
"rulesR": [{"x":272,"y":431,"y2":163},{"x":298,"y":456,"y2":428},{"x":322,"y":401,"y2":94}],
"peakLabelsR": [{"x":272,"y":441,"label":"272"},{"x":298,"y":465,"label":"298"},{"x":325,"y":412,"label":"322"}],
"tempsR": [{"x":363.2,"y":349,"label":"300K"},{"x":363.2,"y":250,"label":"150K"},{"x":366.2,"y":176,"label":"80K"},{"x":367.4,"y":69,"label":"10K"}],
"nameR": [{"x":228.2,"y":491,"label":"NdBa₂Cu₃¹⁸O₇"}]
},
"hconcat": [
{
"width": 268, "height": 519,
"encoding": {
"x": {"field": "x", "type": "quantitative", "scale": {"domain": [220, 381.6], "nice": false, "zero": false},
 "axis": {"title": null, "values": [220,230,240,250,260,270,280,290,300,310,320,330,340,350,360,370], "labelExpr": "datum.value % 40 == 20 ? datum.label : ''", "tickSize": {"condition": {"test": "datum.value % 40 == 20", "value": -13}, "value": -9}, "tickColor": "black", "tickWidth": 1.3, "domain": false, "grid": false, "labelFlush": false, "labelOverlap": false, "labelFont": "Liberation Sans", "labelFontSize": 20, "labelColor": "black", "labelPadding": 25}},
"y": {"field": "y", "type": "quantitative", "scale": {"domain": [0, 519], "nice": false, "zero": false},
 "axis": {"title": "INTENSITY (arb. units)", "labels": false, "ticks": false, "domain": false, "grid": false, "titleFont": "DejaVu Sans", "titleFontSize": 20, "titleFontWeight": "normal", "titleColor": "black", "titlePadding": 8}}
},
"layer": [
{"data": {"name": "dotsL"}, "mark": {"type": "circle", "size": 28, "color": "black", "opacity": 1}},
{"data": {"name": "fitL"}, "mark": {"type": "line", "interpolate": "monotone", "color": "black", "strokeWidth": 2.2}, "encoding": {"detail": {"field": "T"}}},
{"data": {"name": "dashL"}, "mark": {"type": "line", "interpolate": "monotone", "color": "black", "strokeWidth": 1.4, "strokeDash": [7, 5]}, "encoding": {"detail": {"field": "T"}}},
{"data": {"name": "rulesL"}, "mark": {"type": "rule", "color": "black", "strokeWidth": 1}, "encoding": {"y2": {"field": "y2"}}},
{"data": {"name": "peakLabelsL"}, "mark": {"type": "text", "font": "Liberation Sans", "fontSize": 20, "color": "black", "baseline": "middle", "align": "center"}, "encoding": {"text": {"field": "label"}}},
{"data": {"name": "tempsL"}, "mark": {"type": "text", "font": "Liberation Sans", "fontSize": 18, "color": "black", "baseline": "middle", "align": "center"}, "encoding": {"text": {"field": "label"}}},
{"data": {"name": "nameL"}, "mark": {"type": "text", "font": "Liberation Sans", "fontSize": 22, "color": "black", "baseline": "alphabetic", "align": "left"}, "encoding": {"text": {"field": "label"}}}
]
},
{
"width": 264, "height": 519,
"encoding": {
"x": {"field": "x", "type": "quantitative", "scale": {"domain": [220, 380], "nice": false, "zero": false},
 "axis": {"title": null, "values": [230,240,250,260,270,280,290,300,310,320,330,340,350,360,370,380], "labelExpr": "datum.value % 40 == 20 ? datum.label : ''", "tickSize": {"condition": {"test": "datum.value % 40 == 20", "value": -13}, "value": -9}, "tickColor": "black", "tickWidth": 1.3, "domain": false, "grid": false, "labelFlush": false, "labelOverlap": false, "labelFont": "Liberation Sans", "labelFontSize": 20, "labelColor": "black", "labelPadding": 25}},
"y": {"field": "y", "type": "quantitative", "scale": {"domain": [0, 519], "nice": false, "zero": false}, "axis": null}
},
"layer": [
{"data": {"name": "dotsR"}, "mark": {"type": "circle", "size": 28, "color": "black", "opacity": 1}},
{"data": {"name": "fitR"}, "mark": {"type": "line", "interpolate": "monotone", "color": "black", "strokeWidth": 2.2}, "encoding": {"detail": {"field": "T"}}},
{"data": {"name": "dashR"}, "mark": {"type": "line", "interpolate": "monotone", "color": "black", "strokeWidth": 1.4, "strokeDash": [7, 5]}, "encoding": {"detail": {"field": "T"}}},
{"data": {"name": "rulesR"}, "mark": {"type": "rule", "color": "black", "strokeWidth": 1}, "encoding": {"y2": {"field": "y2"}}},
{"data": {"name": "peakLabelsR"}, "mark": {"type": "text", "font": "Liberation Sans", "fontSize": 20, "color": "black", "baseline": "middle", "align": "center"}, "encoding": {"text": {"field": "label"}}},
{"data": {"name": "tempsR"}, "mark": {"type": "text", "font": "Liberation Sans", "fontSize": 18, "color": "black", "baseline": "middle", "align": "center"}, "encoding": {"text": {"field": "label"}}},
{"data": {"name": "nameR"}, "mark": {"type": "text", "font": "Liberation Sans", "fontSize": 22, "color": "black", "baseline": "alphabetic", "align": "left"}, "encoding": {"text": {"field": "label"}}}
]
}
]
}
